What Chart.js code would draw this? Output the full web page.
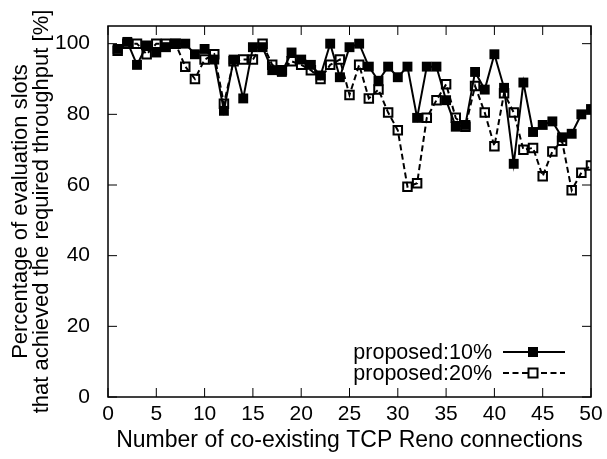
<!DOCTYPE html>
<html>
<head>
<meta charset="utf-8">
<script src="https://cdn.jsdelivr.net/npm/chart.js@4.4.1/dist/chart.umd.min.js"></script>
<style>
  html, body { margin: 0; padding: 0; background: #fff; }
  #wrap { width: 607px; height: 459px; }
</style>
</head>
<body>
<div id="wrap"><canvas id="chart"></canvas></div>
<script>
// values
const connections = [1, 2, 3, 4, 5, 6, 7, 8, 9, 10,
  11, 12, 13, 14, 15, 16, 17, 18, 19, 20,
  21, 22, 23, 24, 25, 26, 27, 28, 29, 30,
  31, 32, 33, 34, 35, 36, 37, 38, 39, 40,
  41, 42, 43, 44, 45, 46, 47, 48, 49, 50];
const proposed10 = [98.5, 100.5, 94, 99.5, 97.5, 99, 100, 100, 97, 98.5,
  95.5, 81, 95.5, 84.5, 99, 99, 92.5, 92, 97.5, 95.5,
  94, 91, 100, 90.5, 99, 100, 93.5, 89.5, 93.5, 90.5,
  93.5, 79, 93.5, 93.5, 84, 76.5, 77, 92, 87, 97,
  87.5, 66, 89, 75, 77, 78, 73.5, 74.5, 80, 81.5];
const proposed20 = [98, 100, 100, 97, 100, 100, 100, 93.5, 90, 95.5,
  97, 83, 95, 95.5, 95.5, 100, 94, 92.5, 95, 94,
  92.5, 90, 94, 95.5, 85.5, 94, 84.5, 87, 80.5, 75.5,
  59.5, 60.5, 79, 84, 88.5, 79, 76.5, 88, 80.5, 71,
  86, 80.5, 70, 70.5, 62.5, 69.5, 72.5, 58.5, 63.5, 65.5];
const yTickValues = [0, 20, 40, 60, 80, 100];
const seriesLabels = ['proposed:10%', 'proposed:20%'];

const FAMILY = '"Liberation Sans", Arial, sans-serif';
const FONT = { family: FAMILY, size: 21 };
const TICK = 9;
const DASH = [6, 3.5];

const pts = (ys) => connections.map((x, i) => ({ x, y: ys[i] }));

// gnuplot-style box with inward ticks on all four sides
const frame = {
  id: 'frame',
  beforeDatasetsDraw(chart) {
    const { ctx, chartArea: a, scales: { x, y } } = chart;
    ctx.save();
    ctx.strokeStyle = '#000';
    ctx.lineWidth = 1;
    ctx.beginPath();
    x.ticks.forEach((t) => {
      const px = x.getPixelForValue(t.value);
      ctx.moveTo(px, a.bottom); ctx.lineTo(px, a.bottom - TICK);
      ctx.moveTo(px, a.top); ctx.lineTo(px, a.top + TICK);
    });
    y.ticks.forEach((t) => {
      const py = y.getPixelForValue(t.value);
      ctx.moveTo(a.left, py); ctx.lineTo(a.left + TICK, py);
      ctx.moveTo(a.right, py); ctx.lineTo(a.right - TICK, py);
    });
    ctx.stroke();
    ctx.lineWidth = 1.5;
    ctx.strokeRect(a.left, a.top, a.right - a.left, a.bottom - a.top);
    ctx.restore();
  },
};

// legend: text right-aligned, sample to the right
const keyBox = {
  id: 'keyBox',
  afterDatasetsDraw(chart) {
    const { ctx } = chart;
    const rows = [352, 373];
    ctx.save();
    ctx.font = `21.5px ${FAMILY}`;
    ctx.fillStyle = '#000';
    ctx.strokeStyle = '#000';
    ctx.textAlign = 'right';
    ctx.textBaseline = 'middle';
    rows.forEach((ry, i) => {
      ctx.fillText(seriesLabels[i], 492, ry + 1);
      ctx.lineWidth = 2;
      ctx.setLineDash(i === 0 ? [] : DASH);
      ctx.beginPath(); ctx.moveTo(503, ry); ctx.lineTo(565, ry); ctx.stroke();
      ctx.setLineDash([]);
      if (i === 0) {
        ctx.fillRect(533 - 5, ry - 5, 10, 10);
      } else {
        ctx.fillStyle = '#fff';
        ctx.fillRect(533 - 4.5, ry - 4.5, 9, 9);
        ctx.fillStyle = '#000';
        ctx.strokeRect(533 - 4.5, ry - 4.5, 9, 9);
      }
    });
    ctx.restore();
  },
};

new Chart(document.getElementById('chart'), {
  type: 'line',
  data: {
    datasets: [
      {
        label: seriesLabels[0], data: pts(proposed10), order: 1,
        borderColor: '#000', borderWidth: 2, tension: 0,
        pointStyle: 'rect', pointRadius: 7, pointBackgroundColor: '#000', pointBorderWidth: 0,
      },
      {
        label: seriesLabels[1], data: pts(proposed20), order: 0,
        borderColor: '#000', borderWidth: 2, borderDash: DASH, tension: 0,
        pointStyle: 'rect', pointRadius: 6, pointBackgroundColor: 'rgba(0,0,0,0)',
        pointBorderColor: '#000', pointBorderWidth: 2,
      },
    ],
  },
  options: {
    responsive: true,
    maintainAspectRatio: false,
    animation: false,
    devicePixelRatio: 1,
    layout: { padding: { top: 26, right: 16, left: 0, bottom: 0 } },
    plugins: { legend: { display: false }, tooltip: { enabled: false } },
    scales: {
      x: {
        type: 'linear', min: 0, max: 50,
        grid: { display: false }, border: { display: false },
        ticks: { stepSize: 5, color: '#000', font: FONT, padding: -3, maxRotation: 0 },
        title: {
          display: true, text: 'Number of co-existing TCP Reno connections',
          color: '#000', font: { family: FAMILY, size: 23 }, padding: { top: 0, bottom: 5 },
        },
        afterFit: (s) => { s.height = 62; },
      },
      y: {
        min: 0, max: 105,
        grid: { display: false }, border: { display: false },
        ticks: { stepSize: 20, color: '#000', font: FONT, padding: 10 },
        afterBuildTicks: (s) => { s.ticks = yTickValues.map((v) => ({ value: v })); },
        title: {
          display: true,
          text: ['Percentage of evaluation slots', 'that achieved the required throughput [%]'],
          color: '#000', font: { family: FAMILY, size: 22, lineHeight: '21.5px' }, padding: { top: 10, bottom: 0 },
        },
        afterFit: (s) => { s.width = 108; },
      },
    },
  },
  plugins: [frame, keyBox],
});
</script>
</body>
</html>
